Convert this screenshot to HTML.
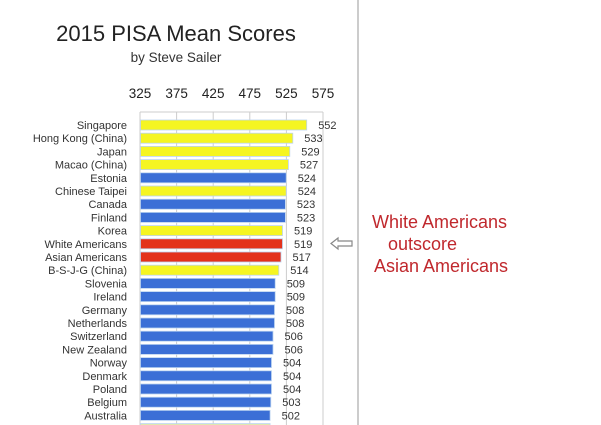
<!DOCTYPE html>
<html><head><meta charset="utf-8"><style>
html,body{margin:0;padding:0;background:#fff;}
svg{display:block;}
text{font-family:"Liberation Sans","DejaVu Sans",sans-serif;}
</style></head><body>
<svg width="601" height="425" viewBox="0 0 601 425" xmlns="http://www.w3.org/2000/svg">
<rect width="601" height="425" fill="#fff"/>
<line x1="358" y1="0" x2="358" y2="425" stroke="#aaa" stroke-width="1.2"/>
<text x="176" y="41" font-size="22" fill="#222" text-anchor="middle">2015 PISA Mean Scores</text>
<text x="176" y="62" font-size="13.5" fill="#333" text-anchor="middle">by Steve Sailer</text>
<g font-size="13.5" fill="#222" text-anchor="middle">
<text x="140" y="98">325</text><text x="176.6" y="98">375</text><text x="213.2" y="98">425</text>
<text x="249.8" y="98">475</text><text x="286.4" y="98">525</text><text x="323" y="98">575</text>
</g>
<g stroke="#ccc" stroke-width="1">
<line x1="140" y1="112" x2="140" y2="425"/><line x1="176.6" y1="112" x2="176.6" y2="425"/>
<line x1="213.2" y1="112" x2="213.2" y2="425"/><line x1="249.8" y1="112" x2="249.8" y2="425"/>
<line x1="286.4" y1="112" x2="286.4" y2="425"/><line x1="323" y1="112" x2="323" y2="425"/>
<line x1="140" y1="112" x2="323" y2="112"/>
</g>
<g stroke="#bcd4f0" stroke-width="0.8">
<rect x="140.5" y="120" width="166.2" height="10" fill="#f5f522"/>
<rect x="140.5" y="133.2" width="152.3" height="10" fill="#f5f522"/>
<rect x="140.5" y="146.4" width="149.3" height="10" fill="#f5f522"/>
<rect x="140.5" y="159.6" width="147.9" height="10" fill="#f5f522"/>
<rect x="140.5" y="172.8" width="145.7" height="10" fill="#3b6fd6"/>
<rect x="140.5" y="186" width="145.7" height="10" fill="#f5f522"/>
<rect x="140.5" y="199.2" width="144.9" height="10" fill="#3b6fd6"/>
<rect x="140.5" y="212.4" width="144.9" height="10" fill="#3b6fd6"/>
<rect x="140.5" y="225.6" width="142" height="10" fill="#f5f522"/>
<rect x="140.5" y="238.8" width="142" height="10" fill="#e3321b"/>
<rect x="140.5" y="252" width="140.5" height="10" fill="#e3321b"/>
<rect x="140.5" y="265.2" width="138.3" height="10" fill="#f5f522"/>
<rect x="140.5" y="278.4" width="134.7" height="10" fill="#3b6fd6"/>
<rect x="140.5" y="291.6" width="134.7" height="10" fill="#3b6fd6"/>
<rect x="140.5" y="304.8" width="134" height="10" fill="#3b6fd6"/>
<rect x="140.5" y="318" width="134" height="10" fill="#3b6fd6"/>
<rect x="140.5" y="331.2" width="132.5" height="10" fill="#3b6fd6"/>
<rect x="140.5" y="344.4" width="132.5" height="10" fill="#3b6fd6"/>
<rect x="140.5" y="357.6" width="131" height="10" fill="#3b6fd6"/>
<rect x="140.5" y="370.8" width="131" height="10" fill="#3b6fd6"/>
<rect x="140.5" y="384" width="131" height="10" fill="#3b6fd6"/>
<rect x="140.5" y="397.2" width="130.3" height="10" fill="#3b6fd6"/>
<rect x="140.5" y="410.4" width="129.6" height="10" fill="#3b6fd6"/>
<rect x="140.5" y="423.6" width="129.6" height="10" fill="#dfe8b0"/>
</g>
<g font-size="11" fill="#333" text-anchor="end">
<text x="127" y="129">Singapore</text>
<text x="127" y="142.2">Hong Kong (China)</text>
<text x="127" y="155.4">Japan</text>
<text x="127" y="168.6">Macao (China)</text>
<text x="127" y="181.8">Estonia</text>
<text x="127" y="195">Chinese Taipei</text>
<text x="127" y="208.2">Canada</text>
<text x="127" y="221.4">Finland</text>
<text x="127" y="234.6">Korea</text>
<text x="127" y="247.8">White Americans</text>
<text x="127" y="261">Asian Americans</text>
<text x="127" y="274.2">B-S-J-G (China)</text>
<text x="127" y="287.4">Slovenia</text>
<text x="127" y="300.6">Ireland</text>
<text x="127" y="313.8">Germany</text>
<text x="127" y="327">Netherlands</text>
<text x="127" y="340.2">Switzerland</text>
<text x="127" y="353.4">New Zealand</text>
<text x="127" y="366.6">Norway</text>
<text x="127" y="379.8">Denmark</text>
<text x="127" y="393">Poland</text>
<text x="127" y="406.2">Belgium</text>
<text x="127" y="419.4">Australia</text>
</g>
<g font-size="11" fill="#333">
<text x="318.2" y="129">552</text>
<text x="304.3" y="142.2">533</text>
<text x="301.3" y="155.4">529</text>
<text x="299.9" y="168.6">527</text>
<text x="297.7" y="181.8">524</text>
<text x="297.7" y="195">524</text>
<text x="296.9" y="208.2">523</text>
<text x="296.9" y="221.4">523</text>
<text x="294" y="234.6">519</text>
<text x="294" y="247.8">519</text>
<text x="292.5" y="261">517</text>
<text x="290.3" y="274.2">514</text>
<text x="286.7" y="287.4">509</text>
<text x="286.7" y="300.6">509</text>
<text x="286" y="313.8">508</text>
<text x="286" y="327">508</text>
<text x="284.5" y="340.2">506</text>
<text x="284.5" y="353.4">506</text>
<text x="283" y="366.6">504</text>
<text x="283" y="379.8">504</text>
<text x="283" y="393">504</text>
<text x="282.3" y="406.2">503</text>
<text x="281.6" y="419.4">502</text>
</g>
<path d="M331 243.5 L338 238 L338 241 L352 241 L352 246 L338 246 L338 249 Z" stroke="#888" stroke-width="1.2" fill="#fff"/>
<g font-size="18" fill="#c0282d">
<text x="372" y="228">White Americans</text>
<text x="388" y="250">outscore</text>
<text x="374" y="272">Asian Americans</text>
</g>
</svg>
</body></html>
